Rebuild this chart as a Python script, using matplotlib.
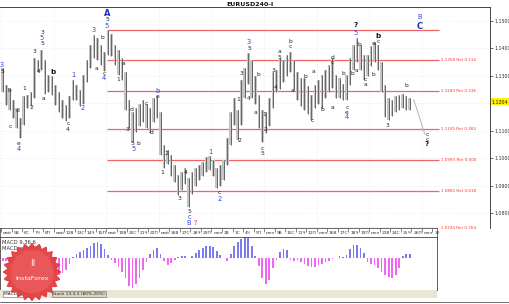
import matplotlib
matplotlib.use("Agg")
import matplotlib.pyplot as plt
import matplotlib.transforms as mtransforms
import numpy as np

W, H = 510, 304

# 8-hour bars (3 per trading day)
bar_high = [1.1327, 1.1265, 1.1255, 1.1211, 1.1182, 1.1145, 1.1225, 1.1229, 1.1240, 1.1364,
            1.1356, 1.1393, 1.1356, 1.1302, 1.1298, 1.1265, 1.1240, 1.1211, 1.1193, 1.1225,
            1.1284, 1.1265, 1.1247, 1.1302, 1.1356, 1.1411, 1.1447, 1.1436, 1.1411, 1.1386,
            1.1465, 1.1451, 1.1411, 1.1393, 1.1364, 1.1313, 1.1211, 1.1167, 1.1182, 1.1196,
            1.1211, 1.1196, 1.1182, 1.1218, 1.1225, 1.1167, 1.1047, 1.1029, 1.1011, 1.0975,
            1.0938, 1.0949, 1.0964, 1.0927, 1.0949, 1.0964, 1.0975, 1.0985, 1.1004, 1.1007,
            1.0993, 1.0964, 1.0975, 1.0993, 1.1073, 1.1167, 1.1218, 1.1175, 1.1284, 1.1327,
            1.1382, 1.1356, 1.1298, 1.1229, 1.1175, 1.1167, 1.1218, 1.1313, 1.1320, 1.1364,
            1.1356, 1.1375, 1.1386, 1.1356, 1.1313, 1.1291, 1.1291, 1.1262, 1.1229, 1.1265,
            1.1284, 1.1302, 1.1320, 1.1338, 1.1364, 1.1302, 1.1291, 1.1269, 1.1302, 1.1364,
            1.1411, 1.1436, 1.1411, 1.1375, 1.1375, 1.1407, 1.1422, 1.1411, 1.1349, 1.1265,
            1.1218, 1.1211, 1.1225, 1.1229, 1.1233, 1.1225, 1.1218]
bar_low = [1.1240, 1.1193, 1.1175, 1.1145, 1.1109, 1.1073, 1.1120, 1.1182, 1.1189, 1.1218,
           1.1313, 1.1320, 1.1233, 1.1240, 1.1229, 1.1193, 1.1167, 1.1145, 1.1135, 1.1145,
           1.1211, 1.1211, 1.1189, 1.1196, 1.1276, 1.1327, 1.1364, 1.1356, 1.1338, 1.1316,
           1.1375, 1.1371, 1.1338, 1.1302, 1.1284, 1.1175, 1.1109, 1.1058, 1.1094, 1.1116,
           1.1131, 1.1109, 1.1091, 1.1131, 1.1145, 1.1011, 1.0964, 1.0978, 1.0935, 1.0913,
           1.0865, 1.0884, 1.0905, 1.0822, 1.0869, 1.0898, 1.0920, 1.0935, 1.0949, 1.0956,
           1.0935, 1.0891, 1.0898, 1.0920, 1.0975, 1.1047, 1.1120, 1.1065, 1.1120, 1.1218,
           1.1269, 1.1218, 1.1196, 1.1109, 1.1058, 1.1091, 1.1116, 1.1182, 1.1240, 1.1251,
           1.1276, 1.1298, 1.1313, 1.1247, 1.1211, 1.1189, 1.1175, 1.1160, 1.1138, 1.1182,
           1.1196, 1.1182, 1.1218, 1.1240, 1.1255, 1.1218, 1.1218, 1.1211, 1.1211, 1.1265,
           1.1320, 1.1349, 1.1320, 1.1284, 1.1298, 1.1335, 1.1349, 1.1320, 1.1240, 1.1149,
           1.1138, 1.1153, 1.1167, 1.1175, 1.1182, 1.1175, 1.1175]
last_price = 1.1204

macd_hist = [-3, -3, -4, -5, -6, -7, -6, -5, -4, -3, -2, -2, -4, -8, -12, -16, -17, -15, -12, -6,
             1, 4, 6, 8, 10, 12, 15, 16, 14, 9, 3, -2, -5, -9, -14, -20, -28, -30, -26, -20,
             -12, -4, 4, 8, 10, 4, -3, -7, -5, -2, 1, 2, 2, 0, 2, 5, 8, 10, 12, 12,
             11, 7, 3, 0, -3, 4, 12, 16, 19, 21, 20, 12, 2, -8, -20, -26, -22, -10, -2, 6,
             9, 8, -2, -3, -2, -4, -6, -8, -9, -9, -7, -6, -4, -3, -1, 0, 2, 1, 3, 9,
             13, 13, 10, 5, -4, -6, -7, -10, -14, -17, -19, -20, -17, -10, 2, 4, 4]

fib_prices = [1.1466, 1.1358, 1.1243, 1.1105, 1.0993, 1.0881, 1.0744]
fib_ratios = ["", "0.114", "0.236", "0.382", "0.500", "0.618", "0.764"]
fib_span = [29.7, 124.4]

proj_x = [117.2, 120.3]
proj_p = [1.1211, 1.1087]

price_ticks = [1.08, 1.09, 1.10, 1.11, 1.12, 1.13, 1.14, 1.15]
day_labels = ["май", "5В", "6С", "7Ч", "8П", "май", "12В", "13С", "14Ч", "15П",
              "май", "19В", "20С", "21Ч", "22П", "май", "26В", "27С", "28Ч", "29П",
              "июн", "2В", "3С", "4Ч", "5П", "июн", "9В", "10С", "11Ч", "12П",
              "июн", "16В", "17С", "18Ч", "19П", "июн", "23В", "24С", "25Ч", "26П",
              "июн", "30"]

# wave marks: (bar, price, text, style)
wave_labels = [
    (-0.2, 1.1338, "3", "b"), (-0.2, 1.1316, "5", "k"), (1.8, 1.1247, "b", "k"),
    (2.1, 1.1113, "c", "k"), (4.1, 1.1171, "d", "k"), (4.6, 1.1054, "e", "k"),
    (4.6, 1.1033, "4", "b"), (6.1, 1.1251, "1", "k"), (8.1, 1.1185, "2", "k"),
    (8.9, 1.1389, "3", "k"), (10.1, 1.1313, "4", "k"), (11.2, 1.1458, "3", "k"),
    (11.2, 1.1436, "5", "b"), (11.2, 1.1415, "5", "k"), (11.5, 1.1218, "a", "k"),
    (14.3, 1.1313, "b", "K"), (18.6, 1.1127, "c", "k"), (18.6, 1.1102, "4", "k"),
    (20.0, 1.1302, "1", "b"), (22.9, 1.1182, "2", "b"), (26.0, 1.1465, "3", "b"),
    (26.6, 1.1324, "a", "k"), (28.3, 1.1440, "b", "k"), (28.9, 1.1309, "c", "k"),
    (28.9, 1.1291, "4", "b"), (29.7, 1.1527, "A", "B"), (29.7, 1.1502, "5", "k"),
    (29.7, 1.1480, "5", "b"), (34.3, 1.1342, "a", "k"), (32.9, 1.1287, "1", "k"),
    (35.4, 1.1102, "3", "k"), (36.8, 1.1175, "d", "k"), (37.1, 1.1054, "5", "k"),
    (38.8, 1.1054, "b", "k"), (37.4, 1.1033, "5", "b"), (40.8, 1.1200, "c", "k"),
    (42.3, 1.1091, "d", "k"), (44.0, 1.1222, "e", "k"), (44.0, 1.1244, "b", "b"),
    (45.4, 1.0949, "1", "k"), (46.8, 1.1018, "2", "k"), (50.5, 1.0851, "3", "k"),
    (52.2, 1.0949, "4", "k"), (53.1, 1.0804, "5", "k"), (53.1, 1.0786, "c", "b"),
    (53.1, 1.0764, "B", "b"), (54.8, 1.0764, "?", "r"), (59.1, 1.1022, "1", "b"),
    (61.6, 1.0876, "c", "k"), (61.9, 1.0851, "2", "b"), (67.1, 1.1211, "1", "k"),
    (67.6, 1.1062, "2", "k"), (67.9, 1.1309, "3", "k"), (70.2, 1.1422, "3", "b"),
    (70.2, 1.1400, "5", "k"), (70.2, 1.1218, "4", "k"), (71.9, 1.1164, "a", "k"),
    (72.8, 1.1302, "b", "k"), (74.5, 1.1160, "1", "k"), (73.9, 1.1036, "c", "k"),
    (73.9, 1.1015, "5", "k"), (75.0, 1.1105, "2", "k"), (77.3, 1.1320, "3", "k"),
    (77.9, 1.1258, "4", "k"), (79.0, 1.1386, "a", "k"), (79.0, 1.1364, "5", "k"),
    (81.9, 1.1425, "b", "k"), (81.9, 1.1404, "c", "k"), (82.5, 1.1247, "a", "k"),
    (86.2, 1.1295, "b", "k"), (88.7, 1.1313, "a", "k"), (91.0, 1.1175, "b", "k"),
    (88.2, 1.1138, "c", "k"), (93.9, 1.1367, "d", "k"), (93.9, 1.1349, "c", "k"),
    (94.1, 1.1185, "a", "k"), (97.0, 1.1309, "b", "k"), (98.1, 1.1185, "c", "k"),
    (98.1, 1.1167, "e", "k"), (98.1, 1.1149, "4", "b"), (99.6, 1.1309, "b", "k"),
    (100.7, 1.1484, "?", "K"), (100.7, 1.1455, "5", "b"), (100.7, 1.1320, "a", "k"),
    (101.8, 1.1411, "b", "k"), (103.3, 1.1284, "c", "k"), (103.3, 1.1269, "a", "k"),
    (105.6, 1.1418, "a", "k"), (105.6, 1.1302, "b", "k"), (107.0, 1.1444, "b", "K"),
    (107.0, 1.1425, "c", "k"), (109.8, 1.1120, "3", "k"), (115.0, 1.1262, "b", "k"),
    (118.9, 1.1513, "B", "b"), (118.9, 1.1480, "C", "B"), (120.9, 1.1087, "c", "k"),
    (120.9, 1.1069, "c", "k"), (120.9, 1.1051, "?", "K"),
]
label_style = {
    "k": dict(color="#222222", fontsize=4.3),
    "K": dict(color="#111111", fontsize=5.2, fontweight="bold"),
    "b": dict(color="#2a46e8", fontsize=4.8),
    "B": dict(color="#1a2fc0", fontsize=6, fontweight="bold"),
    "r": dict(color="#e83030", fontsize=4.8),
}


def px_rect(x0, y0, x1, y1):
    return [x0 / W, 1 - y1 / H, (x1 - x0) / W, (y1 - y0) / H]


fig = plt.figure(figsize=(W / 100, H / 100), dpi=100)
fig.patch.set_facecolor("white")

idx = np.arange(len(bar_high))
hi = np.array(bar_high)
lo = np.array(bar_low)
xmin, xmax = -0.785, 138.9

# ---- price window
ax = fig.add_axes(px_rect(0, 7, 490, 228))
ax.set_xlim(xmin, xmax)
ax.set_ylim(1.07455, 1.15491)
ax.set_facecolor("white")
for y in price_ticks:
    ax.axhline(y, color="#d8d8d8", lw=0.5, ls=(0, (1, 3)), zorder=0)
for k in range(0, len(day_labels), 5):
    ax.axvline(3 * k - 0.5, color="#d8d8d8", lw=0.5, ls=(0, (1, 3)), zorder=0)

ax.hlines(fib_prices, fib_span[0], fib_span[1], color="#f26464", lw=0.9, zorder=1)
for p, r in zip(fib_prices, fib_ratios):
    if r:
        ax.text(fib_span[1] + 0.6, p, "%.4f Ret %s" % (p, r), fontsize=3.0,
                color="#ff3030", va="center", ha="left", clip_on=False)

ax.bar(idx, hi - lo, bottom=lo, width=0.75, color="#c4c4c4", zorder=2)
ax.vlines(idx, lo, hi, color="#555555", lw=0.6, zorder=3)
ax.plot(proj_x, proj_p, color="#bbbbbb", lw=0.8, zorder=2)

for bx, bp, t, s in wave_labels:
    ax.text(bx, bp, t, ha="center", va="center", zorder=5, **label_style[s])

ax.yaxis.tick_right()
ax.set_yticks(price_ticks)
# the 1,1200 mark sits under the current-price box
ax.set_yticklabels(["" if abs(v - last_price) < 0.002 else ("%.4f" % v).replace(".", ",")
                    for v in price_ticks])
ax.tick_params(axis="y", labelsize=3.4, length=2, width=0.5, pad=1, colors="#333333")
ax.set_xticks([])
for sp in ax.spines.values():
    sp.set_color("#444444")
    sp.set_linewidth(0.7)
ax.spines["left"].set_visible(False)
ax.spines["bottom"].set_visible(False)

tr = mtransforms.blended_transform_factory(ax.transAxes, ax.transData)
ax.text(1.003, last_price, ("%.4f" % last_price).replace(".", ","), transform=tr,
        fontsize=3.4, va="center", ha="left", color="#222222",
        bbox=dict(boxstyle="square,pad=0.2", fc="#fff200", ec="none"))

fig.text(0.49, 1 - 4 / H, "EURUSD240-I", fontsize=4.5, fontweight="bold",
         ha="center", va="center", color="#111111")

# ---- date strip
ax_d = fig.add_axes(px_rect(0, 228, 437, 237))
ax_d.set_xlim(xmin, (437 - 2.754) / 3.508)
ax_d.set_ylim(0, 1)
ax_d.set_facecolor("white")
for k, lab in enumerate(day_labels):
    ax_d.vlines(3 * k - 0.5, 0.55, 1, color="#555555", lw=0.5)
    ax_d.text(3 * k, 0.45, lab, fontsize=3.2, ha="left", va="center", color="#333333")
ax_d.set_xticks([])
ax_d.set_yticks([])
for sp in ax_d.spines.values():
    sp.set_color("#555555")
    sp.set_linewidth(0.6)

# ---- MACD window
ax_m = fig.add_axes(px_rect(0, 237, 437, 290))
ax_m.set_xlim(xmin, (437 - 2.754) / 3.508)
ax_m.set_ylim(-32, 21)
mh = np.array(macd_hist)
ax_m.bar(idx, mh, width=0.5, color=np.where(mh >= 0, "#7c7cf2", "#f266f2"), zorder=2)
ax_m.set_xticks([])
ax_m.set_yticks([])
for sp in ax_m.spines.values():
    sp.set_color("#444444")
    sp.set_linewidth(0.6)
ax_m.text(0.005, 0.9, "MACD 9,36,6", transform=ax_m.transAxes, fontsize=3.8,
          color="#333333", va="center")
ax_m.text(0.005, 0.78, "MACD =", transform=ax_m.transAxes, fontsize=3.8,
          color="#333333", va="center")
ax_m.text(0.055, 0.78, "0.0004", transform=ax_m.transAxes, fontsize=3.8,
          color="#2a46e8", va="center")

# ---- bottom tabs
ax_t = fig.add_axes(px_rect(0, 290, 437, 298))
ax_t.set_facecolor("#e9e6d3")
ax_t.set_xticks([])
ax_t.set_yticks([])
for sp in ax_t.spines.values():
    sp.set_visible(False)
ax_t.text(0.01, 0.5, "MACD 9,36,6", fontsize=3.2, va="center", color="#222222",
          bbox=dict(boxstyle="square,pad=0.2", fc="white", ec="#666666", lw=0.4))
ax_t.text(0.12, 0.5, "Stoch 13,3,3 (80%,20%)", fontsize=3.2, va="center", color="#222222",
          bbox=dict(boxstyle="square,pad=0.2", fc="#d8d4c0", ec="#666666", lw=0.4))

# ---- InstaForex badge
ax_l = fig.add_axes(px_rect(2, 242, 62, 302))
ang = np.linspace(0, 2 * np.pi, 49)
rad = np.where(np.arange(49) % 2 == 0, 1.0, 0.84)
ax_l.fill(rad * np.cos(ang), rad * np.sin(ang), color="#e23b3b", alpha=0.92)
ax_l.add_patch(plt.Circle((0, 0), 0.72, color="#ea5a5a", alpha=0.9))
ax_l.text(0, -0.22, "InstaForex", fontsize=4.6, color="white", ha="center", va="center")
ax_l.text(0, 0.3, "Ⅱ", fontsize=6, color="white", ha="center", va="center")
ax_l.set_xlim(-1.05, 1.05)
ax_l.set_ylim(-1.05, 1.05)
ax_l.axis("off")

fig.add_artist(plt.Line2D([0, 1], [1 - 302 / H, 1 - 302 / H], color="#555555", lw=0.6))

fig.savefig("out.png", dpi=100)
